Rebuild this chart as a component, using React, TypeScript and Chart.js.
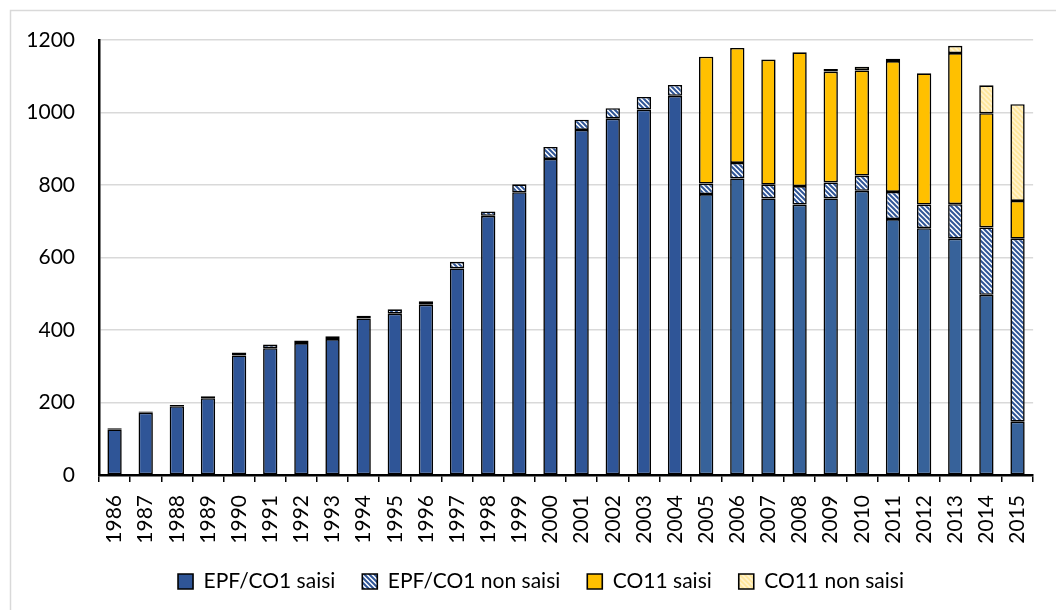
import React, { useEffect, useRef } from "react";
import { Chart, registerables } from "chart.js";

Chart.register(...registerables);

const years = [
  "1986", "1987", "1988", "1989", "1990", "1991", "1992", "1993", "1994", "1995",
  "1996", "1997", "1998", "1999", "2000", "2001", "2002", "2003", "2004", "2005",
  "2006", "2007", "2008", "2009", "2010", "2011", "2012", "2013", "2014", "2015",
];

const epfSaisi = [
  126, 172, 190, 212, 330, 350, 364, 375, 432, 445,
  470, 570, 715, 780, 872, 952, 983, 1008, 1046, 775,
  818, 763, 746, 763, 784, 706, 681, 652, 497, 147,
];

const epfNonSaisi = [
  3, 3, 3, 5, 8, 10, 7, 8, 7, 12,
  9, 18, 12, 22, 33, 28, 29, 35, 30, 29,
  43, 38, 51, 44, 42, 75, 65, 95, 186, 505,
];

const co11Saisi = [
  null, null, null, null, null, null, null, null, null, null,
  null, null, null, null, null, null, null, null, null, 350,
  317, 345, 369, 306, 290, 361, 362, 417, 315, 104,
];

const co11NonSaisi = [
  null, null, null, null, null, null, null, null, null, null,
  null, null, null, null, null, null, null, null, null, null,
  null, null, null, 7, 10, 6, null, 20, 77, 267,
];

const yTicks = [0, 200, 400, 600, 800, 1000, 1200];

const FONT = "Lato";

function hatch(bg: string, fg: string, size: number, lw: number) {
  const c = document.createElement("canvas");
  c.width = size;
  c.height = size;
  const x = c.getContext("2d")!;
  x.fillStyle = bg;
  x.fillRect(0, 0, size, size);
  x.strokeStyle = fg;
  x.lineWidth = lw;
  x.beginPath();
  for (const k of [-1, 0, 1]) {
    x.moveTo(k * size - 1, -1);
    x.lineTo(k * size + size + 1, size + 1);
  }
  x.stroke();
  const p = x.createPattern(c, "repeat");
  return p as CanvasPattern;
}

export default function App() {
  const ref = useRef<HTMLCanvasElement | null>(null);

  useEffect(() => {
    document.body.style.margin = "0";
    const canvas = ref.current!;
    const blueHatch = hatch("#ffffff", "#2F5597", 5, 2.0);
    const creamHatch = hatch("#FFF2CC", "#FFE699", 5, 1.6);
    const blueColors = years.map((y) => (Number(y) >= 2005 ? "#37629A" : "#2F5597"));

    const framePlugin = {
      id: "frame",
      beforeDraw(chart: any) {
        const ctx = chart.ctx;
        ctx.save();
        ctx.fillStyle = "#ffffff";
        ctx.fillRect(0, 0, chart.width, chart.height);
        ctx.strokeStyle = "#d9d9d9";
        ctx.lineWidth = 1.5;
        ctx.beginPath();
        ctx.moveTo(10.5, chart.height);
        ctx.lineTo(10.5, 10.5);
        ctx.lineTo(chart.width, 10.5);
        ctx.stroke();
        ctx.restore();
      },
      afterLayout(chart: any) {
        if (chart.legend) {
          chart.legend.left += 16;
          chart.legend.right += 16;
        }
      },
    };

    const common = {
      borderColor: "#000000",
      borderWidth: 1.6,
      borderSkipped: false,
      barPercentage: 1,
      categoryPercentage: 0.46,
    };

    const chart = new Chart(canvas, {
      type: "bar",
      data: {
        labels: years,
        datasets: [
          { label: "EPF/CO1 saisi", data: epfSaisi, backgroundColor: blueColors, ...common },
          { label: "EPF/CO1 non saisi", data: epfNonSaisi, backgroundColor: blueHatch, ...common },
          { label: "CO11 saisi", data: co11Saisi as any, backgroundColor: "#FFC000", ...common },
          { label: "CO11 non saisi", data: co11NonSaisi as any, backgroundColor: creamHatch, ...common },
        ] as any,
      },
      options: {
        animation: false,
        responsive: false,
        devicePixelRatio: 1,
        layout: { padding: { top: 40, left: 10, right: 16, bottom: 8 } },
        plugins: {
          legend: {
            position: "bottom",
            labels: {
              font: { family: FONT, size: 21 },
              color: "#000000",
              boxWidth: 15,
              boxHeight: 15,
              padding: 27,
            },
          },
          tooltip: { enabled: false },
        },
        scales: {
          x: {
            stacked: true,
            grid: {
              display: true,
              drawOnChartArea: false,
              drawTicks: true,
              tickLength: 7,
              color: "#000000",
              lineWidth: 1.5,
            },
            border: { display: true, color: "#000000", width: 2.5 },
            ticks: {
              font: { family: FONT, size: 21 },
              color: "#000000",
              minRotation: 90,
              maxRotation: 90,
              autoSkip: false,
              padding: 13,
            },
            afterFit(scale: any) {
              scale.height = 69;
            },
          },
          y: {
            stacked: true,
            min: 0,
            max: 1200,
            afterBuildTicks(scale: any) {
              scale.ticks = yTicks.map((v) => ({ value: v }));
            },
            grid: { color: "#d9d9d9", lineWidth: 1.5, drawTicks: false },
            border: { display: true, color: "#000000", width: 2.5 },
            ticks: {
              font: { family: FONT, size: 21 },
              color: "#000000",
              padding: 24,
              callback: (v: any) => String(v),
            },
            afterFit(scale: any) {
              scale.width = 89;
            },
          },
        },
      } as any,
      plugins: [framePlugin],
    });

    return () => chart.destroy();
  }, []);

  return (
    <div style={{ width: 1056, height: 610 }}>
      <canvas ref={ref} width={1056} height={610} style={{ display: "block" }} />
    </div>
  );
}
